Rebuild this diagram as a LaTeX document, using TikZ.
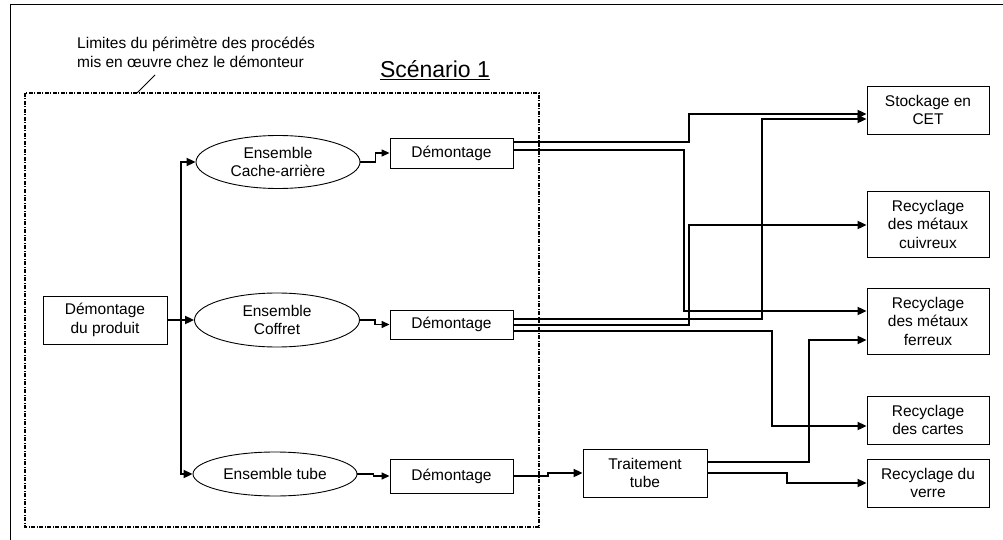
\documentclass[tikz,border=0pt]{standalone}
\usepackage{fontspec}
\setmainfont{Liberation Sans}
\usetikzlibrary{arrows.meta,shapes.geometric}
\begin{document}
\begin{tikzpicture}[x=1pt,y=-1pt,
 every node/.style={font=\fontsize{15.5}{18.5}\selectfont},
 box/.style={draw,line width=0.9pt,inner sep=0pt,align=center},
 ell/.style={draw,ellipse,line width=0.9pt,inner sep=0pt,align=center},
 conn/.style={line width=2pt,-{Triangle[length=9pt,width=8pt]}},
 thinconn/.style={line width=1.4pt,-{Triangle[length=8pt,width=7pt]}},
 perim/.style={line width=1.3pt,dash pattern=on 4pt off 1.5pt on 1pt off 1.5pt},
 frame/.style={line width=1pt}]
\useasboundingbox (0,0) rectangle (1003,540);
% outer frame (cropped)
\draw[frame] (10,541) -- (10,5) -- (1004,5);
% perimeter
\draw[perim] (25,93) rectangle (539,527);
\node[anchor=west,align=left,inner sep=0pt] (lim) at (77,52.5) {Limites du périmètre des procédés\\mis en œuvre chez le démonteur};
\coordinate (limA) at (155,75);
\coordinate (limB) at (137,93);
\draw[line width=0.8pt] (limA) -- (limB);
\node[inner sep=0pt,font=\fontsize{23}{27}\selectfont] (scen) at (435,70) {\underline{Scénario 1}};
% left part
\node[box,minimum width=124pt,minimum height=48pt] (prod) at (105,320) {Démontage\\du produit};
\node[ell,minimum width=164pt,minimum height=53pt] (ecache) at (278,162) {Ensemble\\Cache-arrière};
\node[ell,minimum width=165pt,minimum height=54pt] (ecof) at (277,320) {Ensemble\\Coffret};
\node[ell,minimum width=164pt,minimum height=44pt] (etube) at (275,474) {Ensemble tube};
\node[box,minimum width=123pt,minimum height=30pt] (d1) at (451.5,153) {Démontage};
\node[box,minimum width=123pt,minimum height=29pt] (d2) at (451.5,324.5) {Démontage};
\node[box,minimum width=123pt,minimum height=34pt] (d3) at (451.5,476) {Démontage};
\node[box,minimum width=124pt,minimum height=48pt] (trait) at (645,473) {Traitement\\tube};
% right boxes
\node[box,minimum width=122pt,minimum height=48pt] (stock) at (928,110) {Stockage en\\CET};
\node[box,minimum width=122pt,minimum height=66pt] (cuiv) at (928,224) {Recyclage\\des métaux\\cuivreux};
\node[box,minimum width=122pt,minimum height=66pt] (ferr) at (928,321) {Recyclage\\des métaux\\ferreux};
\node[box,minimum width=122pt,minimum height=48pt] (cart) at (928,420) {Recyclage\\des cartes};
\node[box,minimum width=122pt,minimum height=48pt] (verre) at (928,483) {Recyclage du\\verre};
% trunk
\coordinate (j) at (181,320);
\draw[conn] (prod.east) -- (ecof.west);
\draw[conn] (j) |- (ecache.west);
\draw[conn] (j) |- (etube.west);
% ellipse to boxes
\draw[thinconn] (ecache.east) -- ++(15,0) |- (d1.west);
\draw[thinconn] (ecof.east) -- ++(15,0) |- (d2.west);
\draw[thinconn] (etube.east) -- ++(16,0) |- (d3.west);
% from Demontage 1
\draw[conn] ([yshift=11pt]d1.east) -- ++(176,0) |- ([yshift=-4pt]stock.west);
\draw[conn] ([yshift=3pt]d1.east) -- ++(171,0) |- ([yshift=10pt]ferr.west);
% from Demontage 2
\draw[conn] ([yshift=5.5pt]d2.east) -- ++(249,0) |- ([yshift=-9pt]stock.west);
\draw[conn] (d2.east) -- ++(176,0) |- ([yshift=-1pt]cuiv.west);
\draw[conn] ([yshift=-6pt]d2.east) -- ++(259,0) |- ([yshift=-6pt]cart.west);
% from Demontage 3
\draw[conn] (d3.east) -- ++(35,0) |- (trait.west);
% from Traitement
\draw[conn] ([yshift=11pt]trait.east) -- ++(102,0) |- ([yshift=-19pt]ferr.west);
\draw[conn] (trait.east) -- ++(80,0) |- (verre.west);
\end{tikzpicture}
\end{document}
